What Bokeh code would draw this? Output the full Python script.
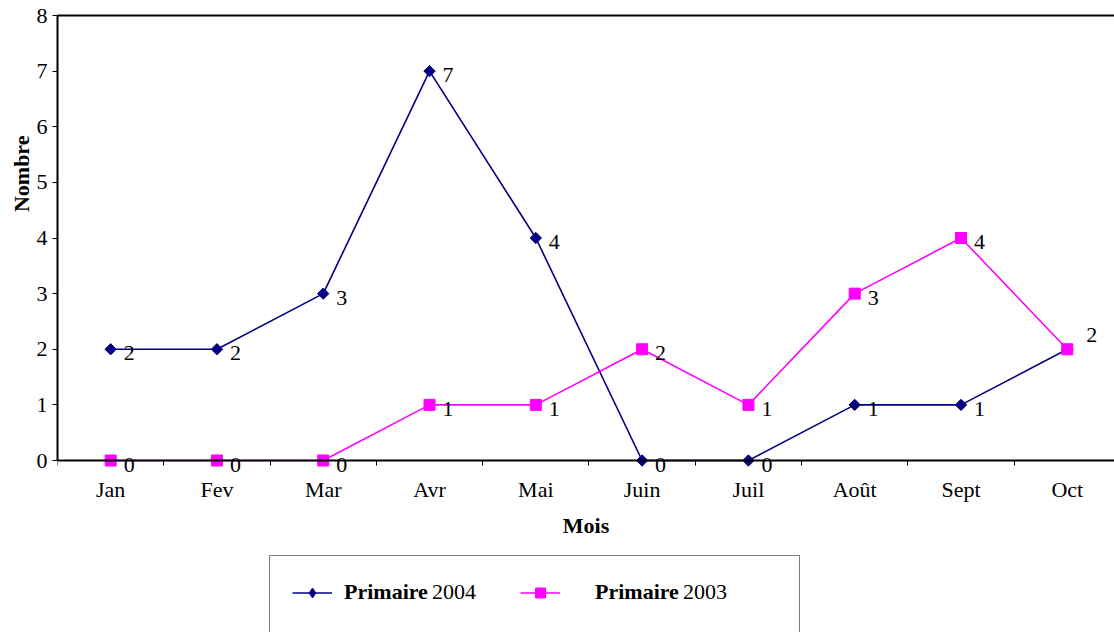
import math
from bokeh.plotting import figure
from bokeh.models import FixedTicker, LinearAxis, Range1d, Legend, LegendItem, Title
from bokeh.core.properties import value
from bokeh.embed import file_html
from bokeh.resources import INLINE

months = ["Jan", "Fev", "Mar", "Avr", "Mai", "Juin", "Juil", "Août", "Sept", "Oct"]
primaire_2004 = [2, 2, 3, 7, 4, 0, 0, 1, 1, 2]
primaire_2003 = [0, 0, 0, 1, 1, 2, 1, 3, 4, 2]
y_ticks = [0, 1, 2, 3, 4, 5, 6, 7, 8]
series_names = ["Primaire", "Primaire"]
series_years = ["2004", "2003"]

FONT = "Liberation Serif"
FS = "22px"
BLUE = "#000080"
PINK = "#FF00FF"

xs = list(range(len(months)))
bounds = [i - 0.5 for i in range(len(months) + 1)]

# The frame runs to the bottom of the page so that the axis texts and the
# legend (drawn inside the frame) are not clipped; y = 0 sits at 460 px.
p = figure(width=1114, height=632, output_backend="svg", toolbar_location=None,
           x_range=Range1d(-0.5, 9.444), y_range=Range1d(-3.092, 8),
           min_border_left=57, min_border_right=0, min_border_top=15,
           min_border_bottom=0, x_axis_type=None, y_axis_type=None)
p.outline_line_color = None
p.xgrid.visible = False
p.ygrid.visible = False
p.background_fill_color = "white"
p.border_fill_color = "white"

# x axis at y = 0, ticks between categories
xaxis = LinearAxis(ticker=FixedTicker(ticks=xs, minor_ticks=bounds), fixed_location=0)
xaxis.major_label_overrides = {i: m for i, m in enumerate(months)}
xaxis.major_tick_out = 0
xaxis.major_tick_in = 0
xaxis.minor_tick_out = 5
xaxis.minor_tick_in = 0
xaxis.minor_tick_line_color = "black"
xaxis.axis_line_color = "black"
xaxis.axis_line_width = 2
xaxis.major_label_text_font = FONT
xaxis.major_label_text_font_size = FS
xaxis.major_label_text_color = "black"
xaxis.major_label_standoff = 11
xaxis.axis_label = "Mois"
xaxis.axis_label_text_font = FONT
xaxis.axis_label_text_font_size = FS
xaxis.axis_label_text_font_style = "bold"
xaxis.axis_label_text_color = "black"
xaxis.axis_label_standoff = 8
p.add_layout(xaxis, "below")

# y axis
yaxis = LinearAxis(ticker=FixedTicker(ticks=y_ticks), bounds=(0, 8))
yaxis.major_tick_out = 5
yaxis.major_tick_in = 0
yaxis.minor_tick_line_color = None
yaxis.axis_line_color = "black"
yaxis.axis_line_width = 2
yaxis.major_label_text_font = FONT
yaxis.major_label_text_font_size = FS
yaxis.major_label_text_color = "black"
yaxis.major_label_standoff = 5
p.add_layout(yaxis, "left")

ytitle = Title(text="Nombre", align="right", offset=120, standoff=0,
               text_font=FONT, text_font_size=FS, text_font_style="bold",
               text_color="black")
p.add_layout(ytitle, "left")

# top border
top = LinearAxis(ticker=FixedTicker(ticks=[]))
top.major_label_text_font_size = "0px"
top.major_label_standoff = 0
top.major_tick_out = 0
top.major_tick_in = 0
top.minor_tick_line_color = None
top.axis_line_color = "black"
top.axis_line_width = 2
p.add_layout(top, "above")

# series
l1 = p.line(xs, primaire_2004, line_color=BLUE, line_width=1.6)
d1 = p.scatter(xs, primaire_2004, marker="diamond", size=7,
               fill_color=BLUE, line_color=BLUE)   # legend sample (hidden under m1)
m1 = p.scatter(xs, primaire_2004, marker="square", angle=math.pi / 4, size=8,
               fill_color=BLUE, line_color=BLUE)
l2 = p.line(xs, primaire_2003, line_color=PINK, line_width=1.6)
m2 = p.scatter(xs, primaire_2003, marker="square", size=11, fill_color=PINK, line_color=PINK)
ghost = p.line(xs, primaire_2004, line_alpha=0)

# data labels
lab_kw = dict(text_font=value(FONT), text_font_size=FS, text_color="black",
              text_align="left", text_baseline="middle")
p.text(xs[:-1], primaire_2004[:-1], text=[str(v) for v in primaire_2004[:-1]],
       x_offset=13, y_offset=4, **lab_kw)
p.text(xs[:-1], primaire_2003[:-1], text=[str(v) for v in primaire_2003[:-1]],
       x_offset=13, y_offset=4, **lab_kw)
p.text(xs[-1:], primaire_2003[-1:], text=[str(v) for v in primaire_2003[-1:]],
       x_offset=19, y_offset=-14, **lab_kw)

# legend box (runs past the bottom edge, as in the original)
box = Legend(items=[LegendItem(label=" ", renderers=[ghost])],
             location=(212, -25), padding=0, margin=0, spacing=0,
             glyph_width=1, glyph_height=1, label_standoff=0,
             label_width=528, label_height=100,
             border_line_color="black", border_line_width=1,
             background_fill_color="white", background_fill_alpha=1)
p.add_layout(box, "center")

bold = dict(label_text_font=FONT, label_text_font_size=FS, label_text_font_style="bold",
            label_text_color="black", padding=0, margin=0, spacing=0,
            glyph_width=40, glyph_height=25, label_height=25,
            border_line_color=None, background_fill_alpha=0)
legA = Legend(items=[LegendItem(label=series_names[0], renderers=[l1, d1])],
              location=(235, 27), label_standoff=12, **bold)
legB = Legend(items=[LegendItem(label=series_names[1], renderers=[l2, m2])],
              location=(463, 27), label_standoff=35, **bold)
p.add_layout(legA, "center")
p.add_layout(legB, "center")

legY = Legend(items=[LegendItem(label=series_years[0], renderers=[ghost]),
                     LegendItem(label=series_years[1], renderers=[ghost])],
              location=(375, 27), orientation="horizontal",
              padding=0, margin=0, spacing=201,
              glyph_width=0, glyph_height=1, label_height=25,
              label_width=50, label_standoff=0, border_line_color=None,
              background_fill_alpha=0,
              label_text_font=FONT, label_text_font_size=FS,
              label_text_color="black")
p.add_layout(legY, "center")

open("out.html", "w").write(file_html(p, INLINE))
